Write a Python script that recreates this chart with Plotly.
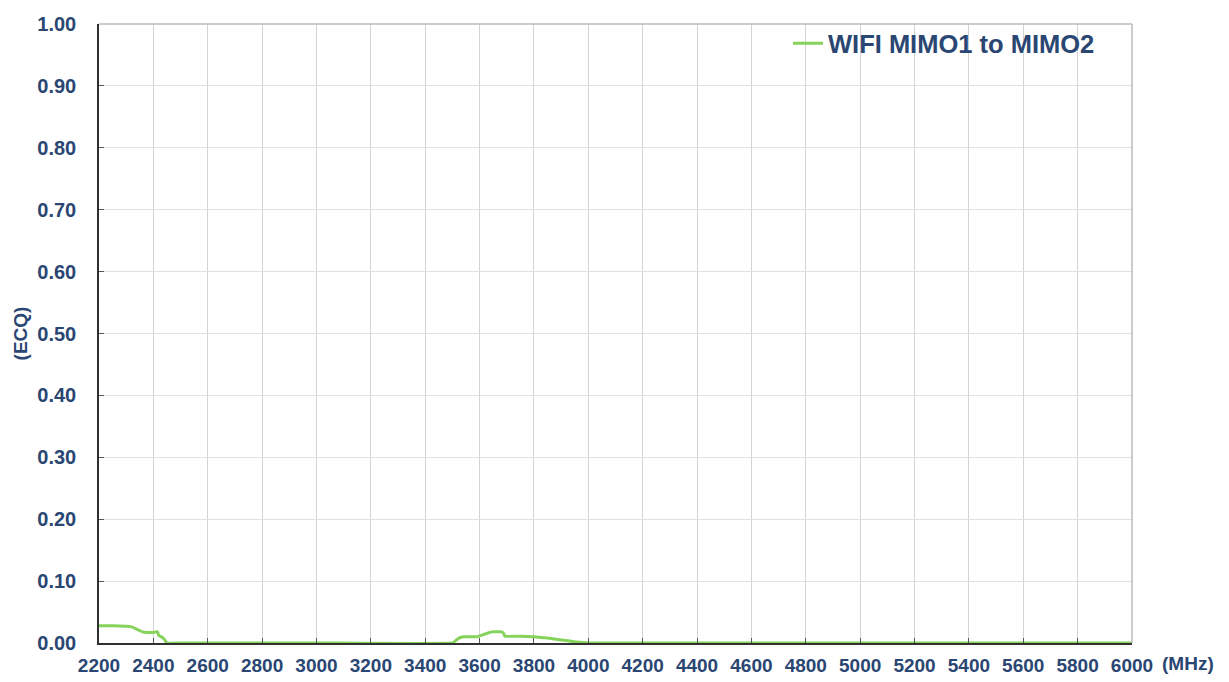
import plotly.graph_objects as go

freq = [2200, 2250, 2300, 2320, 2340, 2360, 2380, 2400, 2410, 2415, 2420, 2430, 2440, 2450, 2500,
        3000, 3500, 3510, 3520, 3540, 3560, 3590, 3610, 3630, 3645, 3660, 3682, 3688, 3693,
        3750, 3800, 3850, 3900, 3950, 4000, 4500, 5000, 5500, 6000]
ecq = [0.028, 0.028, 0.027, 0.026, 0.022, 0.018, 0.017, 0.017, 0.018, 0.018, 0.012, 0.010, 0.006, 0.0, 0.0,
       0.0, 0.0, 0.003, 0.007, 0.010, 0.010, 0.010, 0.013, 0.016, 0.018, 0.018, 0.018, 0.016, 0.011,
       0.011, 0.010, 0.008, 0.005, 0.002, 0.0, 0.0, 0.0, 0.0, 0.0]

series_name = "WIFI MIMO1 to MIMO2"
x_ticks = list(range(2200, 6001, 200))
y_ticks = [i / 10 for i in range(11)]

FONT = "Liberation Sans, Arial, sans-serif"
TXT = "#2A4672"

fig = go.Figure()
fig.add_trace(go.Scatter(x=freq, y=ecq, mode="lines", name=f"<b>{series_name}</b>",
                         line=dict(color="#86D35C", width=3, shape="spline", smoothing=0.3)))

fig.update_layout(
    width=1229, height=682,
    margin=dict(l=91, r=105, t=14, b=47),
    paper_bgcolor="white", plot_bgcolor="white",
    showlegend=True,
    legend=dict(x=0.969, y=1.006, xanchor="right", yanchor="top",
                bgcolor="rgba(0,0,0,0)", borderwidth=0,
                font=dict(family=FONT, size=25.5, color=TXT),
                itemwidth=30, tracegroupgap=0),
    font=dict(family=FONT, color=TXT),
)
fig.update_xaxes(range=[2200, 6000], tickvals=x_ticks,
                 ticktext=[f"<b>{v}</b>" for v in x_ticks],
                 tickfont=dict(family=FONT, size=19, color=TXT),
                 showgrid=True, gridcolor="#D4D4D4", gridwidth=1,
                 showline=True, linecolor="#303030", linewidth=1.5, mirror=False,
                 ticks="inside", ticklen=5, tickcolor="#555555",
                 ticklabelstandoff=4, automargin=False,
                 zeroline=False, fixedrange=True)
fig.update_yaxes(range=[0, 1.0], tickvals=y_ticks,
                 ticktext=[f"<b>{v:.2f}</b>" for v in y_ticks],
                 tickfont=dict(family=FONT, size=20, color=TXT),
                 showgrid=True, gridcolor="#E0E0E0", gridwidth=1,
                 showline=True, linecolor="#303030", linewidth=1.5,
                 ticks="inside", ticklen=5, tickcolor="#555555",
                 ticklabelstandoff=17, automargin=False,
                 title=dict(text="<b>(ECQ)</b>", font=dict(family=FONT, size=19, color=TXT), standoff=5),
                 zeroline=False, fixedrange=True)
# top and right frame
fig.add_shape(type="line", xref="paper", yref="paper", x0=0, x1=1, y0=1, y1=1,
              line=dict(color="#BBBBBB", width=1.5))
fig.add_shape(type="line", xref="paper", yref="paper", x0=1, x1=1, y0=0, y1=1,
              line=dict(color="#BBBBBB", width=1.5))
fig.add_annotation(text="<b>(MHz)</b>", xref="paper", yref="paper", x=1.0, y=0,
                   xanchor="left", yanchor="top", xshift=28, yshift=-8, showarrow=False,
                   font=dict(family=FONT, size=19, color=TXT))

fig.write_html("out.html")
